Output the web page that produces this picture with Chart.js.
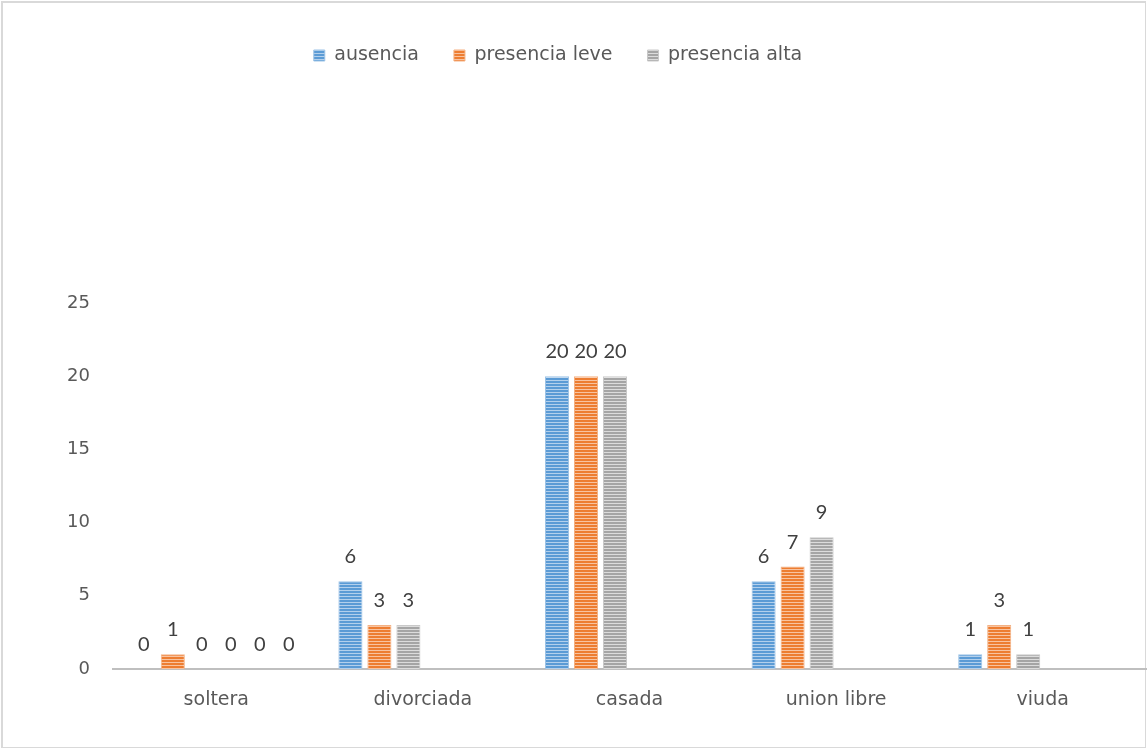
<!DOCTYPE html>
<html>
<head>
<meta charset="utf-8">
<script src="https://cdn.jsdelivr.net/npm/chart.js@4.4.1/dist/chart.umd.min.js"></script>
<style>
  html, body { margin: 0; padding: 0; background: #ffffff; }
  #frame {
    position: absolute; left: 1px; top: 1px;
    width: 1145px; height: 747px;
    box-sizing: border-box;
    border: 2px solid #d9d9d9;
    border-right-width: 1px; border-bottom-width: 1px;
  }
  #chart { position: absolute; left: 0; top: 0; }
</style>
</head>
<body>
<div id="frame"></div>
<canvas id="chart" width="1147" height="749"></canvas>
<script>
// Estado civil vs. nivel de presencia
const categories = ['soltera', 'divorciada', 'casada', 'union libre', 'viuda'];
const ausencia = [0, 6, 20, 6, 1];
const presenciaLeve = [1, 3, 20, 7, 3];
const presenciaAlta = [0, 3, 20, 9, 1];
// three further series that only carry a zero for "soltera"
const serie4 = [0, null, null, null, null];
const serie5 = [0, null, null, null, null];
const serie6 = [0, null, null, null, null];
const yTicks = [0, 5, 10, 15, 20, 25];

const WIDE = '"DejaVu Sans", Verdana, sans-serif';
const NUM = 'Lato, "Open Sans", sans-serif';

// horizontal-stripe fill: two rows of colour, one lighter row
function stripes(color, light) {
  const c = document.createElement('canvas');
  c.width = 4; c.height = 3;
  const g = c.getContext('2d');
  g.fillStyle = color; g.fillRect(0, 0, 4, 2);
  g.fillStyle = light; g.fillRect(0, 2, 4, 1);
  return g.createPattern(c, 'repeat');
}

const ctx = document.getElementById('chart').getContext('2d');
const blue = stripes('#5b9bd5', '#b3d0ec');
const orange = stripes('#ed7d31', '#f8c3a0');
const gray = stripes('#a5a5a5', '#dcdcdc');

function ds(label, data, fill, border) {
  return {
    label, data,
    backgroundColor: fill,
    borderColor: border,
    borderWidth: 1,
    borderSkipped: 'bottom',
    categoryPercentage: 0.842,
    barPercentage: 0.83
  };
}

// value labels above each bar
const valueLabels = {
  id: 'valueLabels',
  afterDatasetsDraw(chart) {
    const c = chart.ctx;
    c.save();
    c.font = '20px ' + NUM;
    c.fillStyle = '#404040';
    c.textAlign = 'center';
    c.textBaseline = 'alphabetic';
    chart.data.datasets.forEach((d, i) => {
      const meta = chart.getDatasetMeta(i);
      meta.data.forEach((el, j) => {
        const v = d.data[j];
        if (v === null || v === undefined) return;
        c.fillText(String(v), el.x, el.y - 18);
      });
    });
    c.restore();
  }
};

// legend row sits a little left of the canvas centre
const legendShift = {
  id: 'legendShift',
  afterLayout(chart) {
    if (chart.legend) { chart.legend.left -= 15; chart.legend.right -= 15; }
  }
};

new Chart(ctx, {
  type: 'bar',
  data: {
    labels: categories,
    datasets: [
      ds('ausencia', ausencia, blue, '#9dc3e6'),
      ds('presencia leve', presenciaLeve, orange, '#f4b183'),
      ds('presencia alta', presenciaAlta, gray, '#c9c9c9'),
      ds('serie 4', serie4, blue, '#9dc3e6'),
      ds('serie 5', serie5, orange, '#f4b183'),
      ds('serie 6', serie6, gray, '#c9c9c9')
    ]
  },
  options: {
    responsive: false,
    animation: false,
    layout: { padding: { top: 11, right: 1, left: 0, bottom: 0 } },
    plugins: {
      tooltip: { enabled: false },
      legend: {
        position: 'top',
        labels: {
          filter: item => item.datasetIndex < 3,
          boxWidth: 11, boxHeight: 11,
          padding: 35,
          color: '#595959',
          font: { family: WIDE, size: 19 }
        }
      },
      // empty block between the legend and the plot area
      subtitle: {
        display: true,
        text: '',
        weight: 500,
        font: { size: 10 },
        padding: { top: 0, bottom: 216 }
      }
    },
    scales: {
      x: {
        grid: { display: false },
        border: { display: true, color: '#bfbfbf', width: 2 },
        ticks: { color: '#595959', font: { family: WIDE, size: 19 }, padding: 12 },
        afterFit: s => { s.height = 80; }
      },
      y: {
        min: 0, max: 25,
        grid: { display: false, drawTicks: false },
        border: { display: false },
        afterBuildTicks: s => { s.ticks = yTicks.map(v => ({ value: v })); },
        ticks: { color: '#595959', font: { family: WIDE, size: 18 }, padding: 23 },
        afterFit: s => { s.width = 113; }
      }
    }
  },
  plugins: [valueLabels, legendShift]
});
</script>
</body>
</html>
